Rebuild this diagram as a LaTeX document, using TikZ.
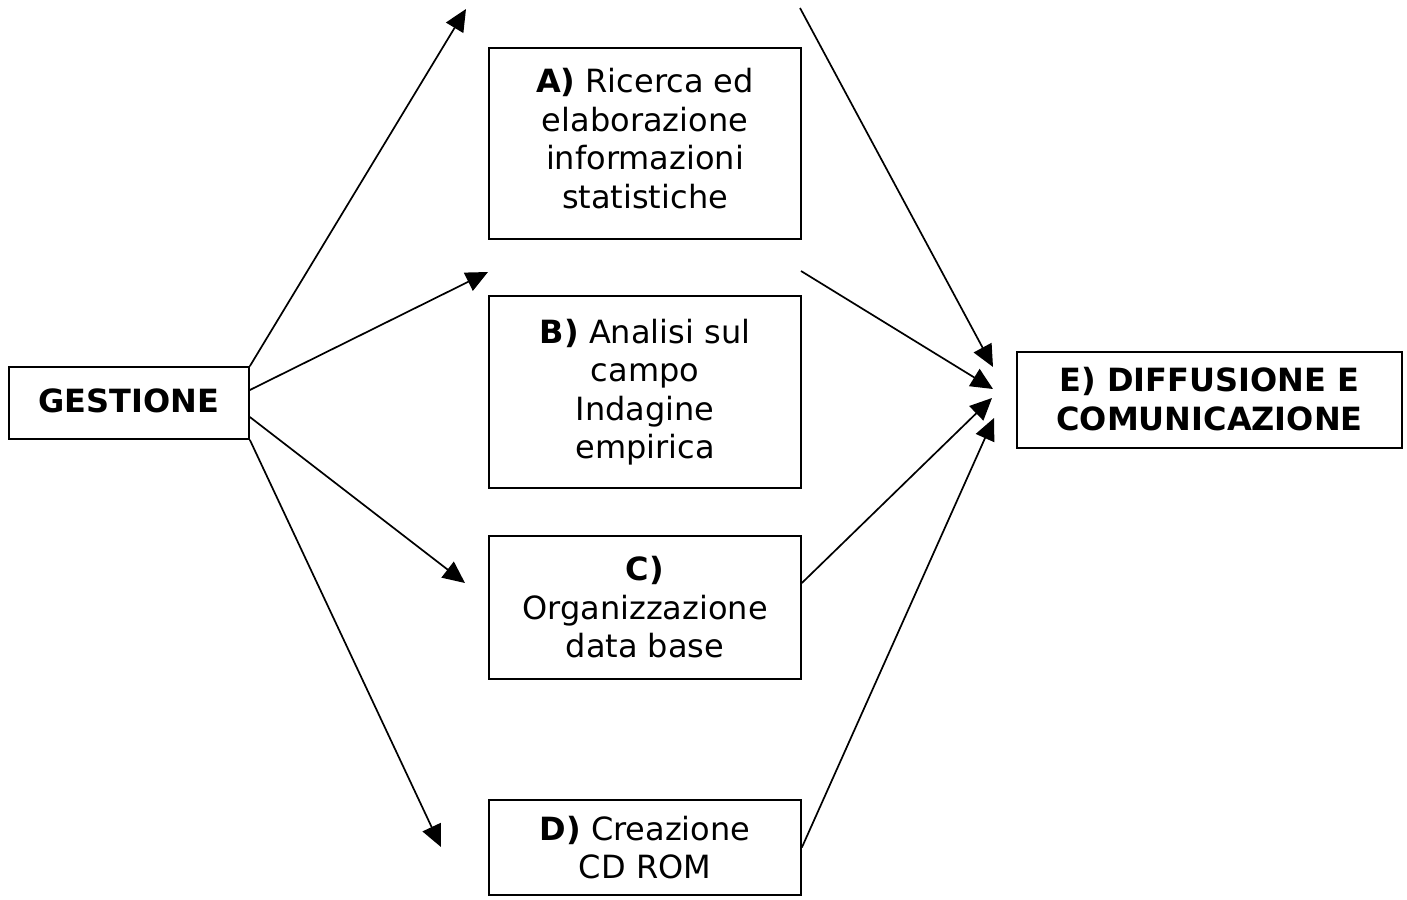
\documentclass[tikz,border=0pt]{standalone}
\usepackage{fontspec}
\setmainfont{DejaVu Sans}
\usetikzlibrary{arrows.meta,calc}
\begin{document}
\begin{tikzpicture}[x=1pt,y=-1pt,
  box/.style={draw,line width=1.7pt,inner sep=0pt,align=center,
    font=\fontsize{32}{38.5}\selectfont},
  txt/.style={inner sep=0pt,align=center,font=\fontsize{32}{38.5}\selectfont},
  conn/.style={line width=1.7pt,-{Triangle[length=22pt,width=20pt]}}]
\useasboundingbox (0,0) rectangle (1407,899);
\node[box,minimum width=240pt,minimum height=72pt] (G) at (129,403) {};
\node[txt] (Gt) at ($(G.center)+(0,-2)$) {\textbf{GESTIONE}};
\node[box,minimum width=312pt,minimum height=191pt] (A) at (645,143.5) {};
\node[txt] (At) at ($(A.center)+(0,-5)$) {\textbf{A)} Ricerca ed\\elaborazione\\informazioni\\statistiche};
\node[box,minimum width=312pt,minimum height=192pt] (B) at (645,392) {\textbf{B)} Analisi sul\\campo\\Indagine\\empirica};
\node[box,minimum width=312pt,minimum height=143pt] (C) at (645,607.5) {\textbf{C)}\\Organizzazione\\data base};
\node[box,minimum width=312pt,minimum height=95pt] (D) at (645,847.5) {\textbf{D)} Creazione\\CD ROM};
\node[box,minimum width=385pt,minimum height=96pt] (E) at (1209.5,400) {};
\node[txt] (Et) at ($(E.center)+(0,-1)$) {\textbf{E) DIFFUSIONE E}\\\textbf{COMUNICAZIONE}};
% free ends
\coordinate (t1) at (466,9);
\coordinate (t2) at (488,272);
\coordinate (t3) at (465,583);
\coordinate (t4) at (441,847);
\coordinate (s5) at (800,8);
\coordinate (s6) at (801,271);
\coordinate (e5) at (993,367);
\coordinate (e6) at (993,389);
\coordinate (e7) at (992,398);
\coordinate (e8) at (994,418);
% connectors from GESTIONE
\draw[conn] (G.north east) -- (t1);
\draw[conn] ($(G.east)+(0,-13)$) -- (t2);
\draw[conn] ($(G.east)+(0,14)$) -- (t3);
\draw[conn] (G.south east) -- (t4);
% connectors to E
\draw[conn] (s5) -- (e5);
\draw[conn] (s6) -- (e6);
\draw[conn] ($(C.east)+(0,-24.5)$) -- (e7);
\draw[conn] (D.east) -- (e8);
\end{tikzpicture}
\end{document}
